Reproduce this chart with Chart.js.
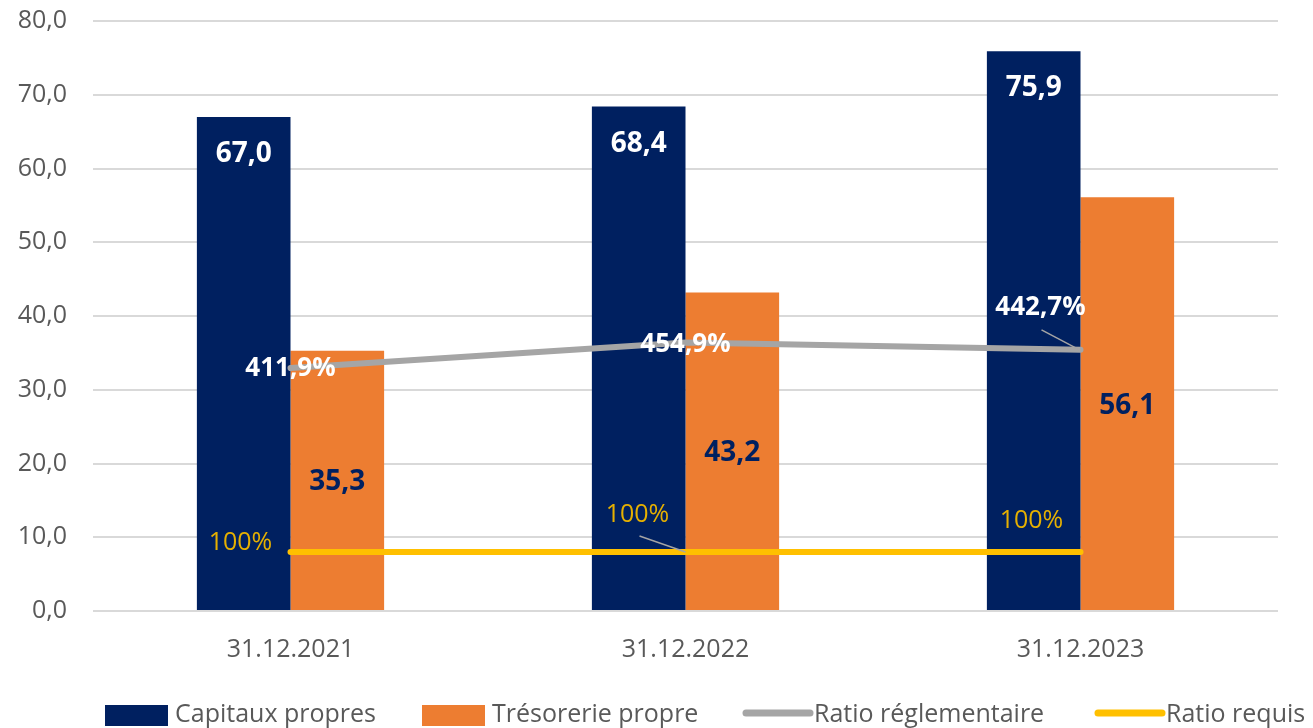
<!DOCTYPE html>
<html>
<head>
<meta charset="utf-8">
<script src="https://cdn.jsdelivr.net/npm/chart.js@4"></script>
<style>
  html, body { margin: 0; padding: 0; background: #ffffff; }
  #wrap { width: 1313px; height: 728px; position: relative; }
</style>
</head>
<body>
<div id="wrap"><canvas id="c" width="1313" height="728"></canvas></div>
<script>
// ---- Data ----
const categories = ['31.12.2021', '31.12.2022', '31.12.2023'];
const capitauxPropres = [67.0, 68.4, 75.9];
const tresoreriePropre = [35.3, 43.2, 56.1];
const ratioReglementaire = [411.9, 454.9, 442.7];
const ratioRequis = [100, 100, 100];
const seriesNames = ['Capitaux propres', 'Trésorerie propre', 'Ratio réglementaire', 'Ratio requis'];
const yTickValues = [0, 10, 20, 30, 40, 50, 60, 70, 80];

// ---- Styles ----
const NAVY = '#002060';
const ORANGE = '#ED7D31';
const GREY = '#A5A5A5';
const YELLOW = '#FFC000';
const TEXT = '#595959';
const FONT = "'Open Sans', 'DejaVu Sans', sans-serif";

const fmt1 = v => v.toFixed(1).replace('.', ',');

// label placement offsets for line series (pixels relative to the point)
const reglOffsets = [[0, 1], [0, 2], [-40, -42]];
const reglLeader = [false, false, true];
const requisOffsets = [[-50, -9], [-48, -37], [-49, -31]];
const requisLeader = [false, true, false];

const valueLabels = {
  id: 'valueLabels',
  afterDatasetsDraw(chart) {
    const ctx = chart.ctx;
    ctx.save();
    ctx.textAlign = 'center';
    ctx.textBaseline = 'middle';

    const m0 = chart.getDatasetMeta(0);
    ctx.font = "bold 28px " + FONT;
    ctx.fillStyle = '#FFFFFF';
    m0.data.forEach((bar, i) => {
      ctx.fillText(fmt1(chart.data.datasets[0].data[i]), bar.x, bar.y + 37);
    });

    const m1 = chart.getDatasetMeta(1);
    ctx.fillStyle = NAVY;
    m1.data.forEach((bar, i) => {
      ctx.fillText(fmt1(chart.data.datasets[1].data[i]), bar.x, (bar.y + bar.base) / 2 + 2);
    });

    const m2 = chart.getDatasetMeta(2);
    m2.data.forEach((pt, i) => {
      const [dx, dy] = reglOffsets[i];
      if (reglLeader[i]) {
        ctx.strokeStyle = GREY;
        ctx.lineWidth = 1.5;
        ctx.beginPath();
        ctx.moveTo(pt.x + dx + 1, pt.y + dy + 22);
        ctx.lineTo(pt.x - 1, pt.y);
        ctx.stroke();
      }
      ctx.font = "bold 26px " + FONT;
      ctx.fillStyle = '#FFFFFF';
      ctx.fillText(fmt1(chart.data.datasets[2].data[i]) + '%', pt.x + dx, pt.y + dy);
    });

    const m3 = chart.getDatasetMeta(3);
    m3.data.forEach((pt, i) => {
      const [dx, dy] = requisOffsets[i];
      if (requisLeader[i]) {
        ctx.strokeStyle = GREY;
        ctx.lineWidth = 1.5;
        ctx.beginPath();
        ctx.moveTo(pt.x + dx + 2, pt.y + dy + 21);
        ctx.lineTo(pt.x, pt.y);
        ctx.stroke();
      }
      ctx.font = "25px " + FONT;
      ctx.fillStyle = '#E6B000';
      ctx.fillText(String(chart.data.datasets[3].data[i]) + '%', pt.x + dx, pt.y + dy);
    });
    ctx.restore();
  }
};

const legendStarts = [105, 422, 743, 1095];
const customLegend = {
  id: 'customLegend',
  afterDraw(chart) {
    const ctx = chart.ctx;
    ctx.save();
    ctx.font = "25px " + FONT;
    ctx.textBaseline = 'middle';
    ctx.textAlign = 'left';
    const yMid = 715;
    chart.data.datasets.forEach((ds, i) => {
      const x = legendStarts[i];
      if (ds.type === 'line') {
        ctx.strokeStyle = ds.borderColor;
        ctx.lineWidth = 7;
        ctx.lineCap = 'round';
        ctx.beginPath();
        ctx.moveTo(x + 3, yMid - 2);
        ctx.lineTo(x + 67, yMid - 2);
        ctx.stroke();
        ctx.fillStyle = TEXT;
        ctx.fillText(ds.label, x + 71, yMid);
      } else {
        ctx.fillStyle = ds.backgroundColor;
        ctx.fillRect(x, 705, 63, 21);
        ctx.fillStyle = TEXT;
        ctx.fillText(ds.label, x + 70, yMid);
      }
    });
    ctx.restore();
  }
};

new Chart(document.getElementById('c'), {
  type: 'bar',
  data: {
    labels: categories,
    datasets: [
      { type: 'bar', label: seriesNames[0], data: capitauxPropres, backgroundColor: NAVY, yAxisID: 'y', order: 1,
        barPercentage: 1.0, categoryPercentage: 0.474, borderWidth: 0 },
      { type: 'bar', label: seriesNames[1], data: tresoreriePropre, backgroundColor: ORANGE, yAxisID: 'y', order: 1,
        barPercentage: 1.0, categoryPercentage: 0.474, borderWidth: 0 },
      { type: 'line', label: seriesNames[2], data: ratioReglementaire, borderColor: GREY, backgroundColor: GREY,
        borderWidth: 6, pointRadius: 0, borderCapStyle: 'round', borderJoinStyle: 'round', tension: 0,
        yAxisID: 'y1', order: 0 },
      { type: 'line', label: seriesNames[3], data: ratioRequis, borderColor: YELLOW, backgroundColor: YELLOW,
        borderWidth: 6, pointRadius: 0, borderCapStyle: 'round', borderJoinStyle: 'round', tension: 0,
        yAxisID: 'y1', order: 0 }
    ]
  },
  options: {
    responsive: false,
    animation: false,
    devicePixelRatio: 1,
    layout: { padding: { top: 21, right: 35, bottom: 0, left: 0 } },
    plugins: {
      legend: { display: false },
      tooltip: { enabled: false },
      title: { display: false }
    },
    scales: {
      x: {
        offset: true,
        grid: { display: false, drawTicks: false },
        border: { display: false },
        ticks: { color: TEXT, font: { family: FONT, size: 25 }, padding: 24 },
        afterFit(s) { s.height = 117; s.paddingLeft = 0; s.paddingRight = 0; }
      },
      y: {
        position: 'left',
        min: 0, max: 80,
        afterBuildTicks(s) { s.ticks = yTickValues.map(v => ({ value: v })); },
        grid: { color: '#D9D9D9', lineWidth: 2, drawTicks: false },
        border: { display: false },
        ticks: { color: TEXT, font: { family: FONT, size: 25 }, padding: 26, callback: v => fmt1(v) },
        afterFit(s) { s.width = 93; s.paddingTop = 0; s.paddingBottom = 0; }
      },
      y1: {
        display: false,
        min: 0, max: 1000
      }
    }
  },
  plugins: [valueLabels, customLegend]
});
</script>
</body>
</html>
